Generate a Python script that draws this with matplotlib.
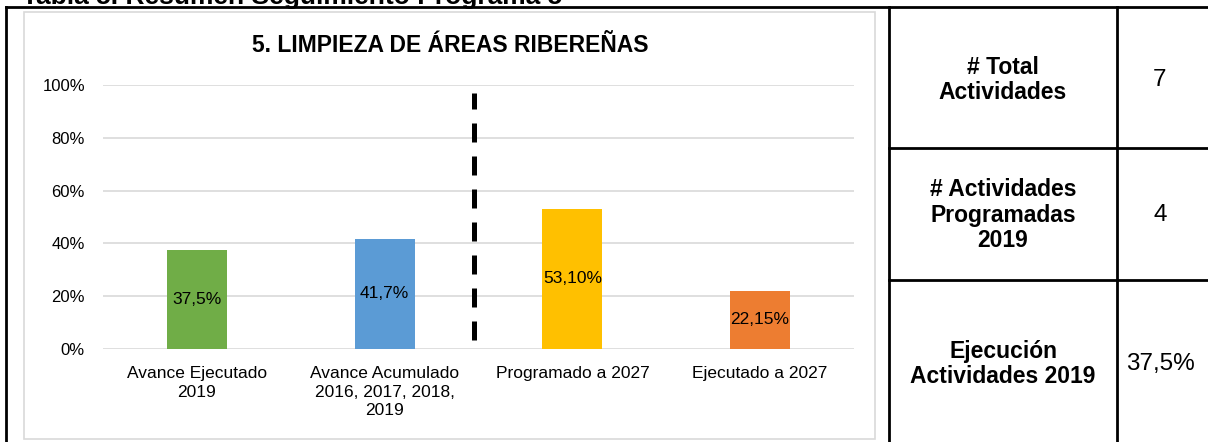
import matplotlib
matplotlib.use("Agg")
import matplotlib.pyplot as plt
from matplotlib.lines import Line2D
from matplotlib.patches import Rectangle

plt.rcParams['font.family'] = ['Liberation Sans', 'DejaVu Sans']

# ---- data ----
categories = ["Avance Ejecutado\n2019",
              "Avance Acumulado\n2016, 2017, 2018,\n2019",
              "Programado a 2027",
              "Ejecutado a 2027"]
values = [37.5, 41.7, 53.10, 22.15]
value_labels = ["37,5%", "41,7%", "53,10%", "22,15%"]
bar_colors = ["#70ad47", "#5b9bd5", "#ffc000", "#ed7d31"]
yticks = [0, 20, 40, 60, 80, 100]
ytick_labels = ["0%", "20%", "40%", "60%", "80%", "100%"]
chart_title = "5. LIMPIEZA DE ÁREAS RIBEREÑAS"
page_caption = "Tabla 5. Resumen Seguimiento Programa 5"
table_labels = ["# Total\nActividades",
                "# Actividades\nProgramadas\n2019",
                "Ejecución\nActividades 2019"]
table_values = ["7", "4", "37,5%"]

W, H = 1208, 442
fig = plt.figure(figsize=(W / 100, H / 100), dpi=100)

def fx(x):
    return x / W

def fy(y):
    return 1 - y / H

# caption (partially clipped at top, as in the reference)
fig.text(fx(22), fy(4), page_caption, fontsize=19, fontweight='bold',
         ha='left', va='baseline')

# chart gray border
fig.add_artist(Rectangle((fx(24), fy(439)), fx(875) - fx(24), fy(12) - fy(439),
                         transform=fig.transFigure, fill=False,
                         edgecolor='#d9d9d9', lw=1.2))

# outer black frame and table lines
blk = dict(color='black', lw=2.0, transform=fig.transFigure, solid_capstyle='projecting')
fig.add_artist(Line2D([fx(6), fx(1210)], [fy(7), fy(7)], **blk))
fig.add_artist(Line2D([fx(6), fx(6)], [fy(7), fy(445)], **blk))
fig.add_artist(Line2D([fx(889), fx(889)], [fy(7), fy(445)], **blk))
fig.add_artist(Line2D([fx(1117), fx(1117)], [fy(7), fy(445)], **blk))
fig.add_artist(Line2D([fx(889), fx(1210)], [fy(148), fy(148)], **blk))
fig.add_artist(Line2D([fx(889), fx(1210)], [fy(280), fy(280)], **blk))

# table text
row_centers = [80, 215, 364]
for lab, val, yc in zip(table_labels, table_values, row_centers):
    fig.text(fx(1003), fy(yc), lab, fontsize=16.5, fontweight='bold',
             ha='center', va='center', linespacing=1.15)
    fig.text(fx(1160), fy(yc), val, fontsize=17.5, ha='center', va='center')

# chart title
fig.text(fx(450), fy(45), chart_title, fontsize=16.5, fontweight='bold',
         ha='center', va='center')

# axes
ax = fig.add_axes([fx(103), fy(349), fx(854) - fx(103), fy(85) - fy(349)])
x = list(range(len(categories)))
bars = ax.bar(x, values, width=0.32, color=bar_colors, zorder=3)
ax.bar_label(bars, labels=value_labels, label_type='center', fontsize=12.5,
             color='black')
ax.set_xlim(-0.5, len(categories) - 0.5)
ax.set_ylim(0, 100)
ax.set_yticks(yticks)
ax.set_yticklabels(ytick_labels, fontsize=12)
ax.set_xticks(x)
ax.set_xticklabels(categories, fontsize=12.5, linespacing=1.32)
ax.tick_params(axis='both', length=0)
ax.tick_params(axis='y', pad=13)
ax.tick_params(axis='x', pad=12)
ax.yaxis.grid(True, color='#d9d9d9', lw=1.2, zorder=0)
for s in ax.spines.values():
    s.set_visible(False)

# separator dashed line
ax.plot([1.476, 1.476], [3.4, 97], color='black', lw=3.6,
        linestyle=(0, (3.8, 2.8)), zorder=4, solid_capstyle='butt')

fig.savefig("out.png", dpi=100)
